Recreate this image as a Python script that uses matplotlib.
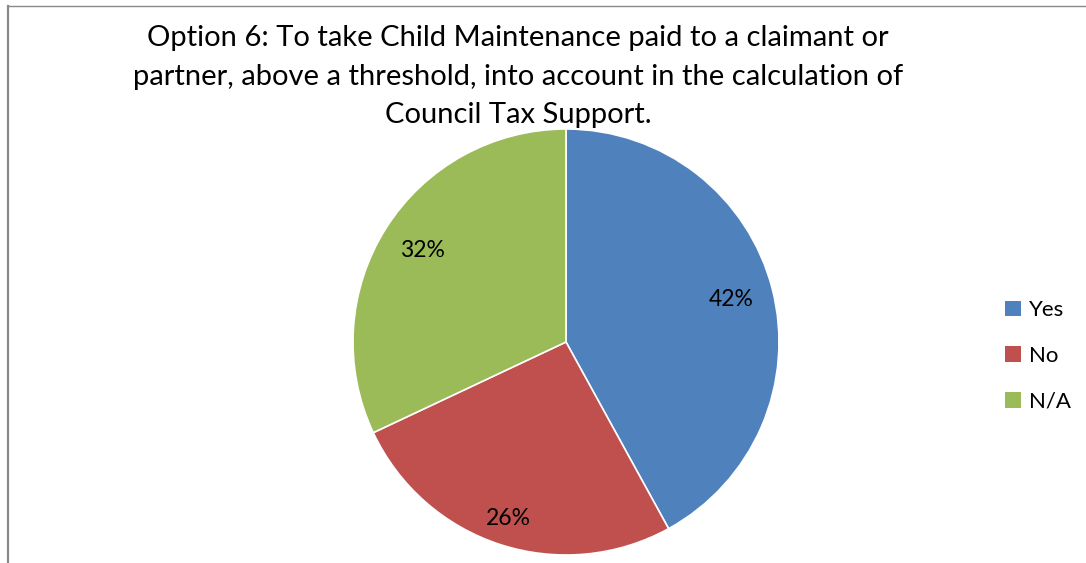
import numpy as np
import matplotlib.pyplot as plt
from matplotlib.lines import Line2D
from matplotlib.patches import Patch

# survey answers for option 6
labels = ["Yes", "No", "N/A"]
shares = [42, 26, 32]
colors = ["#4F81BD", "#C0504D", "#9BBB59"]

title = ("Option 6: To take Child Maintenance paid to a claimant or\n"
         "partner, above a threshold, into account in the calculation of\n"
         "Council Tax Support.")

plt.rcParams['font.family'] = ['Lato', 'DejaVu Sans']

W, H = 1086, 563
fig = plt.figure(figsize=(W / 100, H / 100), dpi=100)

# chart frame (only top and left edges are visible)
fig.add_artist(Line2D([8 / W, 8 / W], [0, 1 - 6 / H], color="#898989", lw=1.6))
fig.add_artist(Line2D([8 / W, 1], [1 - 6 / H, 1 - 6 / H], color="#898989", lw=1.0))

fig.text(518 / W, 1 - 25 / H, title, ha="center", va="top",
         fontsize=21, linespacing=1.6)

cx, cy, r = 566, H - 342, 213
ax = fig.add_axes([(cx - r) / W, (cy - r) / H, 2 * r / W, 2 * r / H])

wedges, texts, autotexts = ax.pie(
    shares,
    colors=colors,
    startangle=90,
    counterclock=False,
    autopct="%d%%",
    pctdistance=0.8,
    wedgeprops=dict(edgecolor="white", linewidth=1.2),
    textprops=dict(fontsize=16.5, color="black"),
    radius=1.0,
)

# push the small slice label a little further out
dist = [0.8, 0.87, 0.8]
for w, t, d in zip(wedges, autotexts, dist):
    ang = np.deg2rad((w.theta1 + w.theta2) / 2)
    t.set_position((d * np.cos(ang), d * np.sin(ang)))

ax.set_xlim(-1, 1)
ax.set_ylim(-1, 1)
ax.set_aspect("equal")
ax.axis("off")

handles = [Patch(facecolor=c, edgecolor="none") for c in colors]
fig.legend(handles, labels, loc="center left",
           bbox_to_anchor=(985 / W, 1 - 356 / H),
           frameon=False, fontsize=16,
           handlelength=0.7, handleheight=0.7, handletextpad=0.4,
           labelspacing=1.15)

fig.savefig("out.png", dpi=100, facecolor="white")
